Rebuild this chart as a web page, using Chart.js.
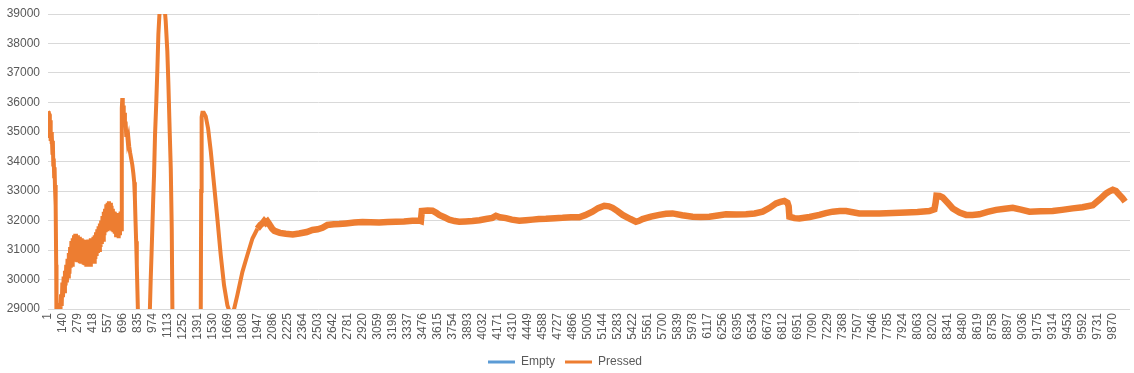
<!DOCTYPE html>
<html>
<head>
<meta charset="utf-8">
<script src="https://cdn.jsdelivr.net/npm/chart.js"></script>
<style>
  html, body { margin: 0; padding: 0; background: #fff; }
  #chart { display: block; }
</style>
</head>
<body>
<canvas id="chart" width="1134" height="373"></canvas>
<script>
// category labels shown under the axis (every 139th sample)
const tickLabels = [
  1, 140, 279, 418, 557, 696, 835, 974, 1113, 1252, 1391, 1530, 1669, 1808, 1947, 2086,
  2225, 2364, 2503, 2642, 2781, 2920, 3059, 3198, 3337, 3476, 3615, 3754, 3893, 4032,
  4171, 4310, 4449, 4588, 4727, 4866, 5005, 5144, 5283, 5422, 5561, 5700, 5839, 5978,
  6117, 6256, 6395, 6534, 6673, 6812, 6951, 7090, 7229, 7368, 7507, 7646, 7785, 7924,
  8063, 8202, 8341, 8480, 8619, 8758, 8897, 9036, 9175, 9314, 9453, 9592, 9731, 9870
];

// "Empty" never shows inside the visible 29000-39000 window
const emptyIdx = [];
const emptyVal = [];

// "Pressed" sample index / reading
const pressedIdx = [
  1, 8, 14, 18, 22, 26, 30, 34, 38, 42, 46, 50, 54, 58, 62, 66, 70, 74, 77, 80,
  100, 104, 110, 116, 122, 128, 134, 140, 146, 152, 158, 164, 170, 176, 182, 188, 194,
  200, 206, 212, 218, 224, 230, 236, 242, 248, 254, 260, 266, 272, 278, 284, 290, 296,
  302, 308, 314, 320, 326, 332, 338, 344, 350, 356, 362, 368, 374, 380, 386, 392, 398,
  404, 410, 416, 422, 428, 434, 440, 446, 452, 458, 464, 470, 476, 482, 488, 494,
  500, 506, 512, 518, 524, 530, 536, 542, 548, 554, 560, 566, 572, 578, 584, 590, 596,
  602, 608, 614, 620, 626, 632, 638, 644, 650, 656, 662, 668, 674, 680, 684,
  686, 690, 694, 698, 703, 708, 714, 720, 726, 732, 740, 746, 754, 762, 772, 782, 792,
  800, 806, 812, 818, 824, 830, 836, 842,
  935, 944, 953, 961, 968, 976, 984, 993, 1005, 1015, 1024, 1037, 1048, 1060, 1072, 1082,
  1092, 1107, 1117, 1130, 1139, 1148, 1154, 1160,
  1410, 1417, 1421, 1425, 1432, 1445, 1463, 1485, 1510, 1540, 1571, 1602, 1633, 1664,
  1695, 1726, 1756, 1803, 1849, 1896, 1942, 1970, 1988, 2005, 2020, 2035, 2050, 2065,
  2080, 2100, 2150, 2205, 2270, 2329, 2400, 2452, 2500, 2545, 2591, 2650, 2700, 2762,
  2840, 2916, 2990, 3071, 3150, 3225, 3300, 3379, 3440, 3457, 3466, 3520, 3565, 3600,
  3627, 3680, 3720, 3770, 3812, 3870, 3936, 4000, 4060, 4120, 4153, 4190, 4246, 4300,
  4369, 4430, 4492, 4550, 4616, 4700, 4770, 4850, 4925, 4980, 5048, 5100, 5157, 5200,
  5234, 5280, 5327, 5400, 5451, 5480, 5512, 5590, 5667, 5730, 5790, 5880, 5976, 6050,
  6131, 6210, 6285, 6380, 6471, 6550, 6625, 6690, 6749, 6790, 6826, 6855, 6866, 6873,
  6920, 6965, 7060, 7151, 7210, 7274, 7340, 7398, 7460, 7521, 7610, 7707, 7830, 7954,
  8060, 8170, 8217, 8228, 8236, 8265, 8294, 8340, 8387, 8450, 8511, 8570, 8634, 8710,
  8789, 8870, 8943, 9020, 9098, 9200, 9314, 9400, 9499, 9590, 9685, 9750, 9809, 9840,
  9870, 9900, 9932, 9960, 9985
];
const pressedVal = [
  35700, 35650, 35600, 34800, 35400, 34700, 35000, 34600, 34900, 34300, 34700, 33900, 34100, 33500, 33800, 33100, 33200, 32500, 30500, 28000,
  28000, 28600, 29200, 28900, 29500, 29100, 29900, 29400, 30100, 29600, 30300, 29800, 30500, 29900, 30700, 30100, 30900,
  30200, 31100, 30400, 31300, 30500, 31400, 30600, 31500, 30600, 31550, 30700, 31500, 30650, 31500, 30600, 31450, 30550,
  31400, 30600, 31400, 30550, 31350, 30500, 31300, 30550, 31350, 30500, 31300, 30500, 31350, 30550, 31300, 30500, 31400,
  30550, 31350, 30550, 31450, 30600, 31500, 30700, 31600, 30800, 31700, 30900, 31800, 31000, 31900, 31100, 32000,
  31200, 32150, 31350, 32300, 31500, 32400, 31600, 32550, 31700, 32600, 31750, 32650, 31800, 32600, 31750, 32500, 31700,
  32400, 31600, 32300, 31550, 32250, 31500, 32200, 31450, 32200, 31400, 32250, 31500, 32300, 31700, 32200,
  35800, 36150, 35600, 35900, 35400, 35650, 35200, 35350, 34900, 35050, 34700, 34800, 34500, 34300, 34100, 33900, 33600,
  33300, 32800, 32000, 31300, 30500, 29600, 28700, 28000,
  28000, 28800, 30000, 30900, 31720, 32700, 33560, 34900, 36040, 37160, 38300, 39200, 39700, 39800, 39600, 39200,
  38760, 37740, 36620, 34900, 33760, 31720, 29000, 28000,
  28000, 29000, 33000, 35500, 35650, 35650, 35530, 35120, 34340, 33220, 32060, 30830, 29800, 29120,
  28800, 29000, 29470, 30260, 30830, 31390, 31720, 31850, 31900, 31980, 31920, 31970, 31890, 31800,
  31720, 31650, 31580, 31550, 31530, 31560, 31610, 31680, 31700, 31750, 31850, 31870, 31880, 31900,
  31930, 31950, 31940, 31930, 31950, 31960, 31970, 31990, 32000, 31980, 32320, 32340, 32330, 32260,
  32190, 32100, 32030, 31980, 31960, 31970, 31980, 32010, 32050, 32090, 32160, 32110, 32080, 32030,
  31990, 32010, 32030, 32050, 32060, 32080, 32090, 32110, 32110, 32180, 32300, 32420, 32500, 32480,
  32430, 32320, 32190, 32050, 31960, 31990, 32050, 32130, 32190, 32230, 32240, 32180, 32130, 32120,
  32130, 32170, 32210, 32200, 32210, 32240, 32300, 32430, 32580, 32630, 32660, 32600, 32480, 32130,
  32080, 32070, 32120, 32190, 32250, 32300, 32320, 32320, 32280, 32240, 32240, 32240, 32255, 32270,
  32290, 32320, 32380, 32600, 32840, 32830, 32780, 32600, 32410, 32270, 32190, 32190, 32210, 32290,
  32360, 32400, 32430, 32370, 32300, 32310, 32320, 32360, 32410, 32450, 32520, 32720, 32920, 32990,
  33040, 33000, 32870, 32760, 32640
];

const toPoints = (xs, ys) => xs.map((x, i) => ({ x: x, y: ys[i] }));

const textColor = '#595959';
const font = { family: "'Liberation Sans', Arial, sans-serif", size: 12 };

new Chart(document.getElementById('chart'), {
  type: 'line',
  data: {
    datasets: [
      {
        label: 'Empty',
        data: toPoints(emptyIdx, emptyVal),
        borderColor: '#5b9bd5',
        backgroundColor: '#5b9bd5',
        borderWidth: 2.5,
        pointRadius: 0
      },
      {
        label: 'Pressed',
        data: toPoints(pressedIdx, pressedVal),
        borderColor: '#ed7d31',
        backgroundColor: '#ed7d31',
        borderWidth: 4,
        pointRadius: 0,
        tension: 0,
        // the noisy flat tail reads as a wider band in the picture
        segment: {
          borderWidth: c => (c.p0.parsed.x >= 1940 ? 6.5 : 4)
        }
      }
    ]
  },
  options: {
    responsive: false,
    animation: false,
    // legend box carries slack below the text, so pull it down past the edge
    layout: { padding: { top: 13, right: 4, left: 0, bottom: -5 } },
    plugins: {
      tooltip: { enabled: false },
      legend: {
        position: 'bottom',
        labels: {
          color: textColor,
          font: font,
          boxWidth: 27,
          boxHeight: 3,
          padding: 10,
          generateLabels(chart) {
            const items = Chart.defaults.plugins.legend.labels.generateLabels(chart);
            items.forEach(it => { it.lineWidth = 0; it.fillStyle = it.strokeStyle; });
            return items;
          }
        }
      }
    },
    scales: {
      x: {
        type: 'linear',
        min: 1,
        max: 10030,
        grid: { display: false, drawTicks: false },
        border: { display: false },
        afterBuildTicks(scale) {
          scale.ticks = tickLabels.map(v => ({ value: v }));
        },
        afterFit(scale) { scale.height = 37; },
        ticks: {
          autoSkip: false,
          minRotation: 90,
          maxRotation: 90,
          padding: 4,
          color: textColor,
          font: font,
          callback: v => String(v)
        }
      },
      y: {
        min: 29000,
        max: 39000,
        grid: { color: '#d9d9d9', drawTicks: false, lineWidth: 1 },
        border: { display: false },
        afterFit(scale) { scale.width = 48; },
        ticks: {
          stepSize: 1000,
          padding: 8,
          color: textColor,
          font: Object.assign({}, font, { lineHeight: 1 }),
          callback: v => String(v)
        }
      }
    }
  }
});
</script>
</body>
</html>
